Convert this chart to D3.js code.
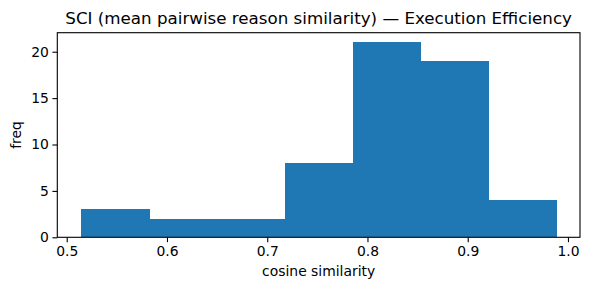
<!DOCTYPE html>
<html>
<head>
<meta charset="utf-8">
<script src="https://cdn.jsdelivr.net/npm/d3@7"></script>
<style>
  body { margin: 0; background: #fff; }
  svg { font-family: "DejaVu Sans", sans-serif; }
</style>
</head>
<body>
<svg width="590" height="290"></svg>
<script>
// Histogram bin edges (cosine similarity) and counts
const binEdges = [0.5143, 0.5820, 0.6497, 0.7174, 0.7851, 0.8529, 0.9206, 0.9883];
const counts = [3, 2, 2, 8, 21, 19, 4];
const xTicks = [0.5, 0.6, 0.7, 0.8, 0.9, 1.0];
const yTicks = [0, 5, 10, 15, 20];

const svg = d3.select("svg");
const margin = { top: 32.7, right: 10, bottom: 52.7, left: 57.3 };
const width = +svg.attr("width") - margin.left - margin.right;
const height = +svg.attr("height") - margin.top - margin.bottom;

const g = svg.append("g").attr("transform", `translate(${margin.left},${margin.top})`);

// matplotlib style 5% margins
const span = binEdges[binEdges.length - 1] - binEdges[0];
const x = d3.scaleLinear()
    .domain([binEdges[0] - 0.05 * span, binEdges[binEdges.length - 1] + 0.05 * span])
    .range([0, width]);
const y = d3.scaleLinear().domain([0, d3.max(counts) * 1.05]).range([height, 0]);

const bins = counts.map((c, i) => ({ x0: binEdges[i], x1: binEdges[i + 1], n: c }));

g.selectAll("rect.bar")
    .data(bins)
    .enter()
    .append("rect")
    .attr("class", "bar")
    .attr("x", d => x(d.x0))
    .attr("width", d => x(d.x1) - x(d.x0) + 0.6)
    .attr("y", d => y(d.n))
    .attr("height", d => y(0) - y(d.n))
    .attr("shape-rendering", "crispEdges")
    .attr("fill", "#1f77b4");

// Axes
const xAxis = g.append("g")
    .attr("transform", `translate(0,${height})`)
    .call(d3.axisBottom(x).tickValues(xTicks).tickFormat(d3.format(".1f")).tickSize(4.9).tickPadding(3.5));

const yAxis = g.append("g")
    .call(d3.axisLeft(y).tickValues(yTicks).tickFormat(d3.format("d")).tickSize(4.9).tickPadding(3.5));

[xAxis, yAxis].forEach(a => {
    a.select(".domain").remove();
    a.selectAll("line").attr("stroke", "#000").attr("stroke-width", 1.1);
    a.selectAll("text").attr("font-size", "13.9px").attr("fill", "#000")
        .attr("font-family", "DejaVu Sans, sans-serif");
});

// Frame (spines)
g.append("rect")
    .attr("x", 0).attr("y", 0)
    .attr("width", width).attr("height", height)
    .attr("fill", "none")
    .attr("stroke", "#000")
    .attr("stroke-width", 1.1);

// Title and labels
svg.append("text")
    .attr("x", margin.left + width / 2)
    .attr("y", 24)
    .attr("text-anchor", "middle")
    .attr("font-size", "16.7px")
    .text("SCI (mean pairwise reason similarity) — Execution Efficiency");

svg.append("text")
    .attr("x", margin.left + width / 2)
    .attr("y", 276)
    .attr("text-anchor", "middle")
    .attr("font-size", "13.9px")
    .text("cosine similarity");

svg.append("text")
    .attr("transform", `translate(21,${margin.top + height / 2}) rotate(-90)`)
    .attr("text-anchor", "middle")
    .attr("font-size", "13.9px")
    .text("freq");
</script>
</body>
</html>
